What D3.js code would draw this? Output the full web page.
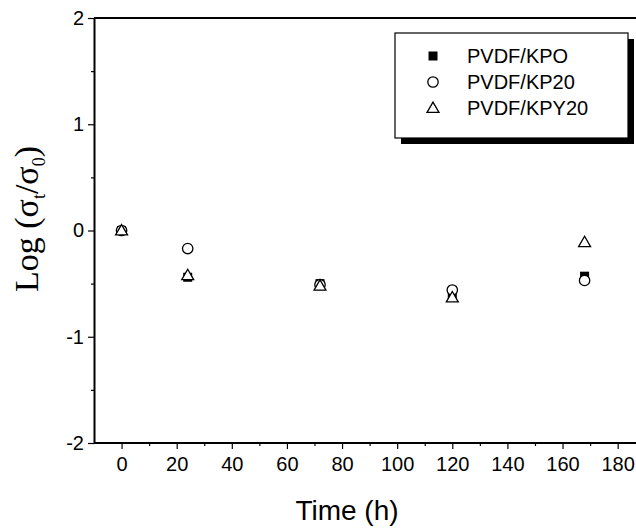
<!DOCTYPE html>
<html>
<head>
<meta charset="utf-8">
<script src="https://d3js.org/d3.v7.min.js"></script>
<style>
  body { margin: 0; background: #fff; }
  text { font-family: Arial, "Liberation Sans", sans-serif; }
</style>
</head>
<body>
<svg id="chart" width="636" height="530"></svg>
<script>
// data
const times = [0, 24, 72, 120, 168];
const kpo    = [0, -0.44, -0.50, -0.63, -0.43];
const kp20   = [0, -0.17, -0.51, -0.56, -0.47];
const kpy20  = [0, -0.42, -0.52, -0.63, -0.11];
const seriesNames = ["PVDF/KPO", "PVDF/KP20", "PVDF/KPY20"];
const xTicks = [0, 20, 40, 60, 80, 100, 120, 140, 160, 180];
const yTicks = [-2, -1, 0, 1, 2];

const svg = d3.select("#chart");

const x = d3.scaleLinear().domain([-10, 195]).range([94, 659]);
const y = d3.scaleLinear().domain([-2, 2]).range([443, 18]);

// axis frame
svg.append("line").attr("x1", 94).attr("x2", 636).attr("y1", y(2)).attr("y2", y(2))
   .attr("stroke", "black").attr("stroke-width", 2);

const xAxis = svg.append("g").attr("transform", "translate(0," + y(-2) + ")")
   .call(d3.axisBottom(x).tickValues(xTicks).tickSize(6).tickPadding(8)
         .tickFormat(d => String(d)).tickSizeOuter(0));
const xMinor = svg.append("g").attr("transform", "translate(0," + y(-2) + ")")
   .call(d3.axisBottom(x).tickValues(d3.range(10, 200, 20)).tickSize(3).tickFormat("").tickSizeOuter(0));

const yAxis = svg.append("g").attr("transform", "translate(" + x(-10) + ",0)")
   .call(d3.axisLeft(y).tickValues(yTicks).tickSize(6).tickPadding(4)
         .tickFormat(d => String(d)).tickSizeOuter(0));
const yMinor = svg.append("g").attr("transform", "translate(" + x(-10) + ",0)")
   .call(d3.axisLeft(y).tickValues([-1.5, -0.5, 0.5, 1.5]).tickSize(3).tickFormat("").tickSizeOuter(0));

[xAxis, xMinor, yAxis, yMinor].forEach(g => {
  g.select(".domain").attr("stroke-width", 2);
  g.selectAll(".tick line").attr("stroke-width", 1.2);
  g.selectAll("text").attr("font-size", 20).attr("font-family", "Arial, 'Liberation Sans', sans-serif");
});
xAxis.select(".domain").attr("d", "M94,0H636");
xMinor.select(".domain").remove();
yMinor.select(".domain").remove();

// axis titles
svg.append("text").attr("x", 347).attr("y", 520).attr("text-anchor", "middle")
   .attr("font-size", 28).text("Time (h)");

const yl = svg.append("text").attr("transform", "translate(38,219) rotate(-90)")
   .attr("text-anchor", "middle").attr("font-size", 34)
   .style("font-family", "'Liberation Serif', 'Times New Roman', serif");
yl.append("tspan").text("Log (σ");
yl.append("tspan").attr("font-size", 18).attr("dy", 7).text("t");
yl.append("tspan").attr("dy", -7).text("/σ");
yl.append("tspan").attr("font-size", 18).attr("dy", 7).text("0");
yl.append("tspan").attr("dy", -7).text(")");

// marker drawers
function square(g, cx, cy) {
  g.append("rect").attr("x", cx - 4.5).attr("y", cy - 4.5).attr("width", 9).attr("height", 9)
   .attr("fill", "black");
}
function circle(g, cx, cy) {
  g.append("circle").attr("cx", cx).attr("cy", cy).attr("r", 5.2)
   .attr("fill", "white").attr("stroke", "black").attr("stroke-width", 1.3);
}
function triangle(g, cx, cy) {
  g.append("path").attr("d", d3.symbol(d3.symbolTriangle, 62)())
   .attr("transform", "translate(" + cx + "," + (cy + 1) + ")")
   .attr("fill", "white").attr("stroke", "black").attr("stroke-width", 1.3);
}
const drawers = [square, circle, triangle];
const allSeries = [kpo, kp20, kpy20];

const pts = svg.append("g");
allSeries.forEach((vals, i) => {
  times.forEach((t, j) => drawers[i](pts, x(t), y(vals[j])));
});

// legend
const lg = svg.append("g");
lg.append("rect").attr("x", 401).attr("y", 39).attr("width", 233).attr("height", 105).attr("fill", "black");
lg.append("rect").attr("x", 395).attr("y", 33).attr("width", 233).attr("height", 105)
  .attr("fill", "white").attr("stroke", "black").attr("stroke-width", 1.2);
seriesNames.forEach((name, i) => {
  const ry = 56 + i * 26;
  drawers[i](lg, 433, ry);
  lg.append("text").attr("x", 467).attr("y", ry + 7).attr("font-size", 20).text(name);
});
</script>
</body>
</html>
